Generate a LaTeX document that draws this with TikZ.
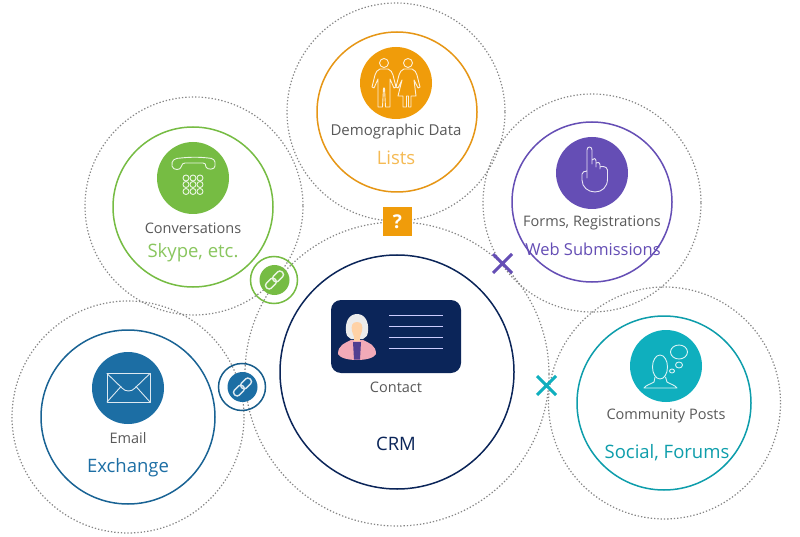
\documentclass[tikz,border=0pt]{standalone}
\usepackage{fontspec}
\setmainfont{Open Sans}
\definecolor{cgreen}{HTML}{76BC43}
\definecolor{corange}{HTML}{F09C0A}
\definecolor{cpurple}{HTML}{654EB5}
\definecolor{cteal}{HTML}{0FAFBE}
\definecolor{cblue}{HTML}{1C6EA4}
\definecolor{cnavy}{HTML}{0B2559}
\definecolor{ctext}{HTML}{595959}
\tikzset{
 dotring/.style={draw=black!48,dash pattern=on 1.3pt off 2pt,line width=1.2pt},
 ring/.style={line width=1.5pt},
 small/.style={text=ctext,font=\fontsize{14.5}{16}\selectfont,inner sep=0pt},
 big/.style={font=\fontsize{18.5}{20}\selectfont,inner sep=0pt},
 glyph/.style={draw=white!85!#1,line width=.9pt,line join=round,line cap=round},
 linkglyph/.style={draw=white!85!#1,line width=1.4pt,rounded corners=3pt},
}
\begin{document}
\begin{tikzpicture}[x=1pt,y=-1pt]
\useasboundingbox[fill=white] (0,0) rectangle (800,537);
% dotted rings
\draw[dotring] (396,112) circle[radius=109];
\draw[dotring] (194,206) circle[radius=109];
\draw[dotring] (592,203) circle[radius=109];
\draw[dotring] (397,374) circle[radius=152];
\draw[dotring] (128,417) circle[radius=116];
\draw[dotring] (664.5,403) circle[radius=116];
% solid rings and icon discs
\draw[ring,draw=corange!80!brown] (397,112) circle[radius=80];
\fill[corange] (396,83) circle[radius=36];
\draw[ring,draw=cgreen] (193,207) circle[radius=80];
\fill[cgreen] (193,178) circle[radius=36];
\draw[ring,draw=cpurple] (592,202) circle[radius=80];
\fill[cpurple] (592,173) circle[radius=36];
\draw[ring,draw=cnavy] (397,372) circle[radius=117];
\draw[ring,draw=cblue!90!black] (128,417) circle[radius=87];
\fill[cblue] (128,388) circle[radius=36];
\draw[ring,draw=cteal!90!black] (664,403) circle[radius=87];
\fill[cteal] (666,366) circle[radius=36];
% people icon
\begin{scope}[glyph=corange]
\draw (384,63) circle[radius=4.5];
\draw (408,63) circle[radius=4.5];
\draw (380,69) -- (388,69) .. controls (391,70) and (392,72) .. (393,75) -- (396,87) -- (394,88) -- (390,79) -- (390,107) -- (385.5,107) -- (384.5,88) -- (383.5,88) -- (382.5,107) -- (378,107) -- (378,79) -- (374,88) -- (372,87) -- (375,75) .. controls (376,72) and (377,70) .. (380,69) -- cycle;
\draw (404,69) -- (412,69) .. controls (415,70) and (416,72) .. (417,75) -- (420,87) -- (418,88) -- (414,80) -- (416,96) -- (411,96) -- (411,107) -- (408.5,107) -- (408.5,96) -- (406.5,96) -- (406.5,107) -- (403,107) -- (403,96) -- (398,96) -- (402,80) -- (398,88) -- (396,87) -- (399,75) .. controls (400,72) and (401,70) .. (404,69) -- cycle;
\end{scope}
% phone icon
\begin{scope}[glyph=cgreen]
\draw (172,166) .. controls (171,160) and (175,158) .. (181,158) .. controls (190,157) and (200,157) .. (208,158) .. controls (213,158) and (216,160) .. (215,166) .. controls (215,170) and (207,170) .. (206,167) .. controls (206,164) and (205,163) .. (203,163) -- (185,163) .. controls (183,163) and (182,164) .. (181,167) .. controls (181,170) and (173,171) .. (172,166) -- cycle;
\foreach \kx in {186,193,200}\foreach \ky in {178,184.5,191.5}\draw (\kx,\ky) circle[radius=3];
\end{scope}
% hand icon
\draw[glyph=cpurple] (587,171) -- (587,150) .. controls (587,146) and (592,146) .. (592,150) -- (592,164) -- (592,160) .. controls (593,158) and (596,158) .. (596,161) -- (596,167) -- (596,163) .. controls (597,162) and (600,162) .. (600,165) -- (600,169) -- (600,167) .. controls (601,166) and (607,166) .. (607.5,170) -- (607.5,179) .. controls (607.5,187) and (602,192) .. (595,192) .. controls (588,192) and (582,187) .. (582,180) -- (582,174) .. controls (582,172) and (585,171) .. (587,171) -- (587,178);
% envelope icon
\begin{scope}[glyph=cblue]
\draw (107,373.5) rectangle (150,402);
\draw (107,373.5) -- (122,388) .. controls (125,392) and (132,392) .. (135,388) -- (150,373.5);
\draw (107,402) -- (121,386.5);
\draw (150,402) -- (136,386.5);
\end{scope}
% community icon
\begin{scope}[glyph=cteal]
\draw (660,367) ellipse[x radius=7.5,y radius=12];
\draw (655,377) -- (654,382) .. controls (651,384) and (646,385) .. (644,388) -- (677,388) .. controls (675,385) and (670,384) .. (667,382) -- (665.5,377);
\draw (679,352) ellipse[x radius=8.5,y radius=7];
\draw (679,365) ellipse[x radius=3.5,y radius=3];
\draw (672,371) ellipse[x radius=2.5,y radius=2];
\end{scope}
% links
\draw[line width=1.5pt,draw=cgreen] (274,280) circle[radius=23.5];
\fill[cgreen] (274.5,280) circle[radius=15];
\draw[linkglyph=cgreen,rotate around={45:(274.5,280)}] (263.5,276.5) rectangle (275.5,283.5);
\draw[linkglyph=cgreen,rotate around={45:(274.5,280)}] (273.5,276.5) rectangle (285.5,283.5);
\draw[line width=1.5pt,draw=cblue!85!black] (242,387) circle[radius=23.5];
\fill[cblue] (242.5,387) circle[radius=15];
\draw[linkglyph=cblue,rotate around={45:(242.5,387)}] (231.5,383.5) rectangle (243.5,390.5);
\draw[linkglyph=cblue,rotate around={45:(242.5,387)}] (241.5,383.5) rectangle (253.5,390.5);
% question box
\node[fill=corange,minimum size=29pt,inner sep=0pt,text=white,font=\bfseries\fontsize{19}{21}\selectfont] (q) at (397.5,221.5) {?};
% crosses
\draw[cpurple,line width=3pt] (493,254) -- (512,273) (512,254) -- (493,273);
\draw[cteal,line width=3pt] (537,376) -- (556,395) (556,376) -- (537,395);
% contact card
\node[fill=cnavy,rounded corners=10pt,minimum width=130pt,minimum height=73pt,inner sep=0pt] (card) at (396,336.5) {};
\foreach \ly in {315,326,337,348}\draw[white!80!blue,line width=1pt] (389,\ly) -- (443,\ly);
\fill[white!85!gray] (357,314) .. controls (349,314) and (345,322) .. (346,331) .. controls (346,335) and (348,338) .. (351,339) -- (363,339) .. controls (366,338) and (368,335) .. (368,331) .. controls (369,322) and (365,314) .. (357,314) -- cycle;
\fill[pink!70!purple!70!white] (338,354) .. controls (338,345) and (345,343) .. (351,340) -- (363,340) .. controls (369,343) and (376,345) .. (376,354) .. controls (374,358) and (366,360) .. (357,360) .. controls (348,360) and (340,358) .. (338,354) -- cycle;
\fill[cpurple!80!black] (353,342) -- (361,342) -- (360,359.5) -- (354,359.5) -- cycle;
\fill[orange!35!white] (357,322) .. controls (352,322) and (351,326) .. (352,331) .. controls (353,335) and (355,337) .. (354,341) -- (360,341) .. controls (359,337) and (361,335) .. (362,331) .. controls (363,326) and (362,322) .. (357,322) -- cycle;
% texts
\node[small,font=\fontsize{15}{16}\selectfont] (t1) at (396,132) {Demographic Data};
\node[big,text=corange!70!white] (t2) at (396,158) {Lists};
\node[small] (t3) at (193,228) {Conversations};
\node[big,text=cgreen!85!white] (t4) at (193,252.5) {Skype, etc.};
\node[small] (t5) at (592,223) {Forms, Registrations};
\node[big,text=cpurple,font=\fontsize{16.5}{18}\selectfont] (t6) at (593,249) {Web Submissions};
\node[small] (t7) at (396,387) {Contact};
\node[big,text=cnavy] (t8) at (396,444) {CRM};
\node[small] (t9) at (128,438) {Email};
\node[big,text=cblue] (t10) at (128,468) {Exchange};
\node[small] (t11) at (666,416) {Community Posts};
\node[big,text=cteal!90!black] (t12) at (667,453) {Social, Forums};
\end{tikzpicture}
\end{document}
